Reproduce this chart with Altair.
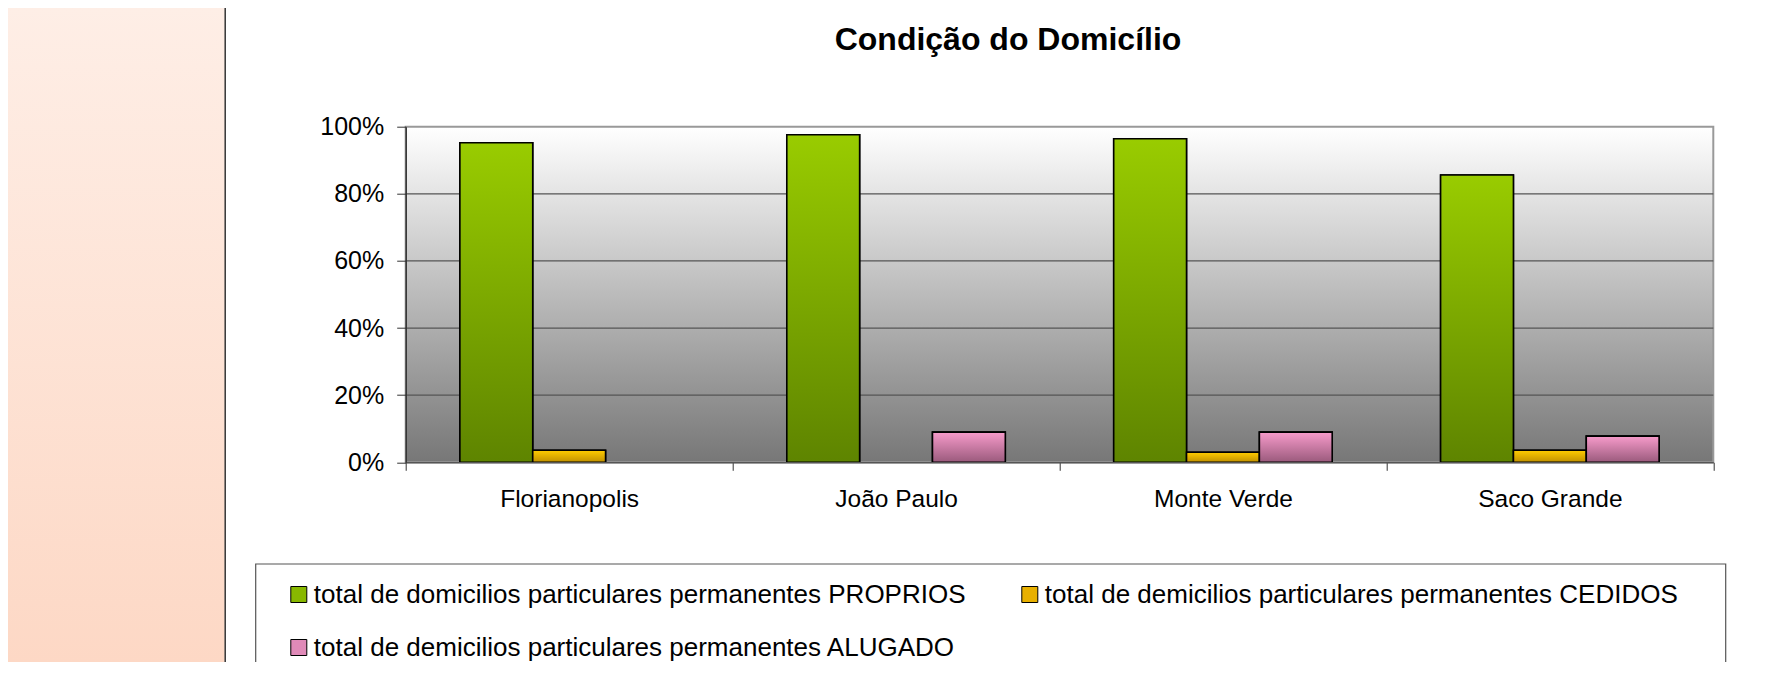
import altair as alt
import pandas as pd

# ---------------- data ----------------
categories = ["Florianopolis", "João Paulo", "Monte Verde", "Saco Grande"]
series_names = [
    "total de domicilios particulares permanentes PROPRIOS",
    "total de demicilios particulares permanentes CEDIDOS",
    "total de demicilios particulares permanentes ALUGADO",
]
proprios = [0.952, 0.976, 0.964, 0.856]
cedidos = [0.036, 0.0, 0.030, 0.036]
alugado = [0.0, 0.090, 0.090, 0.078]
y_ticks = [0, 0.2, 0.4, 0.6, 0.8, 1.0]
grid_values = [0.2, 0.4, 0.6, 0.8]
title_text = "Condição do Domicílio"

rows = []
for s, vals in zip(series_names, [proprios, cedidos, alugado]):
    for c, v in zip(categories, vals):
        rows.append({"cat": c, "series": s, "value": v})
df = pd.DataFrame(rows)

# ---------------- layout ----------------
W = 1307.6
H = 335.6
PAD_L = 397.7
PAD_T = 118.7
PAD_R = 1760 - PAD_L - W
PAD_B = 654 - PAD_T - H
FONT = "Liberation Sans"


def grad(top, bottom):
    return alt.LinearGradient(
        gradient="linear",
        stops=[alt.GradientStop(color=top, offset=0), alt.GradientStop(color=bottom, offset=1)],
        x1=0, x2=0, y1=0, y2=1,
    )


green = grad("#99CC00", "#5E8400")
yellow = grad("#FFCC00", "#C09000")
pink = grad("#F79BCB", "#9A5A7C")
bg = grad("#FFFFFF", "#777777")
peach = grad("#FEEEE6", "#FDD8C5")

one = alt.Data(values=[{"k": 0}])

panel = alt.Chart(one).mark_rect(fill=peach).encode(
    x=alt.value(-PAD_L), x2=alt.value(-181), y=alt.value(-PAD_T), y2=alt.value(H + PAD_B)
)
sep = alt.Chart(one).mark_rule(color="#333333", strokeWidth=1.5).encode(
    x=alt.value(-180.5), y=alt.value(-PAD_T), y2=alt.value(H + PAD_B)
)
plotbg = alt.Chart(one).mark_rect(fill=bg, stroke="#999999", strokeWidth=2).encode(
    x=alt.value(0), x2=alt.value(W), y=alt.value(0), y2=alt.value(H)
)
legend_box = alt.Chart(one).mark_rect(fill="white", stroke="#555555", strokeWidth=1.2).encode(
    x=alt.value(-150), x2=alt.value(1320), y=alt.value(437.3), y2=alt.value(H + PAD_B + 40)
)

yscale = alt.Scale(domain=[0, 1], nice=False)
y_axis = alt.Axis(
    title=None, values=y_ticks, format=".0%", labelFontSize=25, labelFont=FONT,
    labelColor="black", labelPadding=13, tickSize=9, tickColor="#333333",
    domainColor="#333333", domainWidth=1.5, grid=False, zindex=1,
)
y_enc = alt.Y("value:Q", scale=yscale, axis=y_axis)

grid = alt.Chart(pd.DataFrame({"value": grid_values})).mark_rule(
    color="#555555", strokeWidth=1.3
).encode(y=y_enc)

x_enc = alt.X(
    "cat:N",
    sort=categories,
    scale=alt.Scale(domain=categories, paddingInner=0, paddingOuter=0),
    axis=alt.Axis(
        title=None, labelAngle=0, labelFontSize=24.5, labelFont=FONT, labelColor="black",
        labelPadding=17, tickSize=8, tickColor="#333333", tickBand="extent",
        domainColor="#555555", domainWidth=1.5, zindex=1, labelLimit=400,
    ),
)
xo_enc = alt.XOffset(
    "series:N", sort=series_names,
    scale=alt.Scale(domain=series_names, paddingInner=0, paddingOuter=0.744),
)

base = alt.Chart(df).transform_filter("datum.value > 0")

legend_layer = base.mark_bar(stroke="black", strokeWidth=1.5).encode(
    x=x_enc,
    xOffset=xo_enc,
    y=y_enc,
    fill=alt.Fill(
        "series:N",
        sort=series_names,
        scale=alt.Scale(domain=series_names, range=["#88B800", "#E8B000", "#E08AB8"]),
        legend=alt.Legend(
            orient="none", legendX=-150, legendY=437.3, columns=2, direction="horizontal",
            title=None, labelFontSize=26, labelFont=FONT, labelColor="black", labelLimit=1000,
            symbolType="square", symbolSize=256, symbolStrokeColor="black",
            symbolStrokeWidth=1, symbolOffset=12.6, labelOffset=2,
            padding=17.5, rowPadding=27, columnPadding=38,
            strokeColor="transparent", fillColor="transparent",
        ),
    ),
)

bar_layers = []
for s, g in zip(series_names, [green, yellow, pink]):
    bar_layers.append(
        base.transform_filter(alt.datum.series == s)
        .mark_bar(fill=g, stroke="black", strokeWidth=1.6)
        .encode(x=x_enc, xOffset=xo_enc, y=y_enc)
    )

chart = (
    alt.layer(panel, sep, legend_box, plotbg, grid, legend_layer, *bar_layers)
    .properties(
        width=W,
        height=H,
        padding={"left": PAD_L, "top": PAD_T, "right": PAD_R, "bottom": PAD_B},
        autosize=alt.AutoSizeParams(type="none"),
        title=alt.Title(
            title_text, fontSize=32, font=FONT, fontWeight="bold", color="black",
            anchor="middle", frame="group", dx=-51.5, dy=53.5,
        ),
    )
    .configure(font=FONT)
    .configure_view(stroke=None)
)

chart.save("out.html", embed_options={"renderer": "svg", "actions": False})
